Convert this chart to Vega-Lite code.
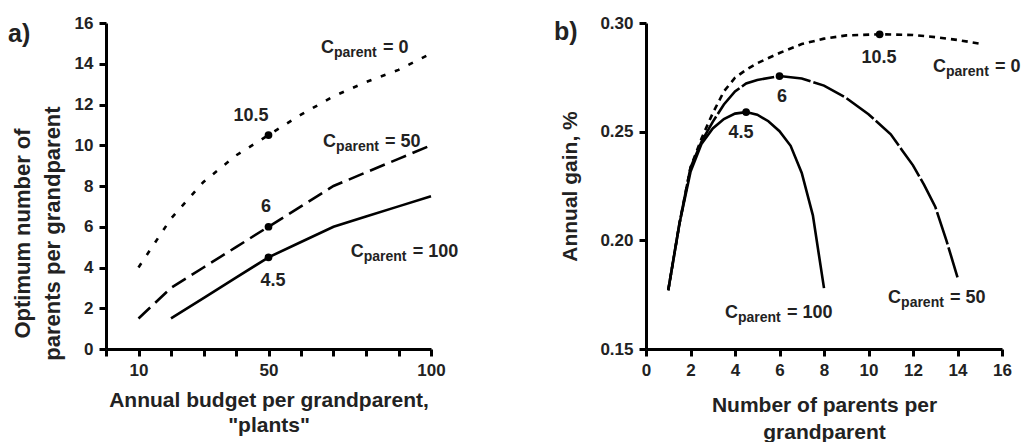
{
  "$schema": "https://vega.github.io/schema/vega-lite/v6.json",
  "padding": {"left": 8, "top": 14, "right": 0, "bottom": 0},
  "spacing": 95,
  "config": {
    "font": "Liberation Sans",
    "view": {"stroke": null},
    "axis": {
      "grid": false,
      "domain": true,
      "ticks": true,
      "domainColor": "black",
      "domainWidth": 3,
      "tickColor": "black",
      "tickWidth": 3,
      "tickSize": 7,
      "labelPadding": 6,
      "labelOverlap": false,
      "labelFlush": false,
      "labelFontSize": 17,
      "labelFontWeight": "bold",
      "labelColor": "#222",
      "titleFontSize": 21,
      "titleFontWeight": "bold",
      "titleColor": "#222"
    },
    "title": {"font": "Liberation Sans", "fontSize": 25, "fontWeight": "bold", "color": "#222"},
    "text": {"font": "Liberation Sans", "fontWeight": "bold", "color": "#222", "baseline": "alphabetic"},
    "line": {"color": "black", "strokeWidth": 2.6}
  },
  "datasets": {
    "a_lines": [
      {"budget": 10, "n": 4.0, "cost": "0"},
      {"budget": 20, "n": 6.4, "cost": "0"},
      {"budget": 30, "n": 8.2, "cost": "0"},
      {"budget": 40, "n": 9.5, "cost": "0"},
      {"budget": 50, "n": 10.5, "cost": "0"},
      {"budget": 60, "n": 11.5, "cost": "0"},
      {"budget": 70, "n": 12.4, "cost": "0"},
      {"budget": 80, "n": 13.1, "cost": "0"},
      {"budget": 90, "n": 13.7, "cost": "0"},
      {"budget": 100, "n": 14.5, "cost": "0"},
      {"budget": 10, "n": 1.5, "cost": "50"},
      {"budget": 20, "n": 3.0, "cost": "50"},
      {"budget": 30, "n": 4.0, "cost": "50"},
      {"budget": 40, "n": 5.0, "cost": "50"},
      {"budget": 50, "n": 6.0, "cost": "50"},
      {"budget": 60, "n": 7.0, "cost": "50"},
      {"budget": 70, "n": 8.0, "cost": "50"},
      {"budget": 80, "n": 8.67, "cost": "50"},
      {"budget": 90, "n": 9.33, "cost": "50"},
      {"budget": 100, "n": 10.0, "cost": "50"},
      {"budget": 20, "n": 1.5, "cost": "100"},
      {"budget": 30, "n": 2.5, "cost": "100"},
      {"budget": 40, "n": 3.5, "cost": "100"},
      {"budget": 50, "n": 4.5, "cost": "100"},
      {"budget": 60, "n": 5.25, "cost": "100"},
      {"budget": 70, "n": 6.0, "cost": "100"},
      {"budget": 80, "n": 6.5, "cost": "100"},
      {"budget": 90, "n": 7.0, "cost": "100"},
      {"budget": 100, "n": 7.5, "cost": "100"}
    ],
    "a_points": [
      {"budget": 50, "n": 10.5, "label": "10.5", "lx": 44.6, "ly": 11.19},
      {"budget": 50, "n": 6.0, "label": "6", "lx": 49.2, "ly": 6.72},
      {"budget": 50, "n": 4.5, "label": "4.5", "lx": 51.4, "ly": 3.09}
    ],
    "a_caps": [
      {"x": 66.15, "y": 14.53, "rest": "= 0"},
      {"x": 66.8, "y": 9.91, "rest": "= 50"},
      {"x": 75.3, "y": 4.52, "rest": "= 100"}
    ],
    "b_lines": [
      {"parents": 1, "gain": 0.177, "cost": "0"},
      {"parents": 1.5, "gain": 0.2075, "cost": "0"},
      {"parents": 2, "gain": 0.2335, "cost": "0"},
      {"parents": 2.5, "gain": 0.247, "cost": "0"},
      {"parents": 3, "gain": 0.2585, "cost": "0"},
      {"parents": 3.5, "gain": 0.2685, "cost": "0"},
      {"parents": 4, "gain": 0.2748, "cost": "0"},
      {"parents": 4.5, "gain": 0.2785, "cost": "0"},
      {"parents": 5, "gain": 0.2815, "cost": "0"},
      {"parents": 6, "gain": 0.2862, "cost": "0"},
      {"parents": 7, "gain": 0.2903, "cost": "0"},
      {"parents": 8, "gain": 0.2928, "cost": "0"},
      {"parents": 9, "gain": 0.2943, "cost": "0"},
      {"parents": 10.5, "gain": 0.2948, "cost": "0"},
      {"parents": 12, "gain": 0.2945, "cost": "0"},
      {"parents": 13, "gain": 0.2935, "cost": "0"},
      {"parents": 14, "gain": 0.2922, "cost": "0"},
      {"parents": 15, "gain": 0.2905, "cost": "0"},
      {"parents": 1, "gain": 0.177, "cost": "50"},
      {"parents": 1.5, "gain": 0.2075, "cost": "50"},
      {"parents": 2, "gain": 0.2335, "cost": "50"},
      {"parents": 2.5, "gain": 0.2455, "cost": "50"},
      {"parents": 3, "gain": 0.2545, "cost": "50"},
      {"parents": 3.5, "gain": 0.2625, "cost": "50"},
      {"parents": 4, "gain": 0.2685, "cost": "50"},
      {"parents": 4.5, "gain": 0.2722, "cost": "50"},
      {"parents": 5, "gain": 0.2738, "cost": "50"},
      {"parents": 6, "gain": 0.2756, "cost": "50"},
      {"parents": 7, "gain": 0.2745, "cost": "50"},
      {"parents": 8, "gain": 0.2712, "cost": "50"},
      {"parents": 9, "gain": 0.2655, "cost": "50"},
      {"parents": 10, "gain": 0.258, "cost": "50"},
      {"parents": 11, "gain": 0.2488, "cost": "50"},
      {"parents": 11.5, "gain": 0.2416, "cost": "50"},
      {"parents": 12, "gain": 0.2345, "cost": "50"},
      {"parents": 12.5, "gain": 0.2255, "cost": "50"},
      {"parents": 13, "gain": 0.2155, "cost": "50"},
      {"parents": 13.5, "gain": 0.2, "cost": "50"},
      {"parents": 14, "gain": 0.183, "cost": "50"},
      {"parents": 1, "gain": 0.177, "cost": "100"},
      {"parents": 1.5, "gain": 0.2075, "cost": "100"},
      {"parents": 2, "gain": 0.2315, "cost": "100"},
      {"parents": 2.5, "gain": 0.2445, "cost": "100"},
      {"parents": 3, "gain": 0.2515, "cost": "100"},
      {"parents": 3.5, "gain": 0.2558, "cost": "100"},
      {"parents": 4, "gain": 0.2583, "cost": "100"},
      {"parents": 4.5, "gain": 0.259, "cost": "100"},
      {"parents": 5, "gain": 0.2578, "cost": "100"},
      {"parents": 5.5, "gain": 0.2548, "cost": "100"},
      {"parents": 6, "gain": 0.2502, "cost": "100"},
      {"parents": 6.5, "gain": 0.2435, "cost": "100"},
      {"parents": 7, "gain": 0.231, "cost": "100"},
      {"parents": 7.5, "gain": 0.2115, "cost": "100"},
      {"parents": 8, "gain": 0.178, "cost": "100"}
    ],
    "b_points": [
      {"parents": 10.5, "gain": 0.2948, "label": "10.5", "lx": 10.47, "ly": 0.2816},
      {"parents": 6, "gain": 0.2756, "label": "6", "lx": 6.11, "ly": 0.2636},
      {"parents": 4.5, "gain": 0.259, "label": "4.5", "lx": 4.27, "ly": 0.2471}
    ],
    "b_caps": [
      {"x": 12.9, "y": 0.2775, "rest": "= 0"},
      {"x": 10.88, "y": 0.1711, "rest": "= 50"},
      {"x": 3.55, "y": 0.1642, "rest": "= 100"}
    ]
  },
  "hconcat": [
    {
      "width": 325,
      "height": 326,
      "title": {"text": "a)", "anchor": "start", "frame": "group", "dx": -98, "offset": -33},
      "encoding": {
        "x": {
          "field": "budget", "type": "quantitative",
          "scale": {"domain": [0, 100], "nice": false},
          "axis": {
            "values": [0, 10, 20, 30, 40, 50, 60, 70, 80, 90, 100],
            "labelExpr": "indexof([10, 50, 100], datum.value) >= 0 ? datum.label : ''",
            "title": ["Annual budget per grandparent,", "\"plants\""],
            "titleLineHeight": 25,
            "titlePadding": 11
          }
        },
        "y": {
          "field": "n", "type": "quantitative",
          "scale": {"domain": [0, 16], "nice": false},
          "axis": {
            "values": [0, 2, 4, 6, 8, 10, 12, 14, 16],
            "title": ["Optimum number of", "parents per grandparent"],
            "titleFontSize": 22,
            "titleLineHeight": 30,
            "titleY": 210,
            "titlePadding": 10
          }
        }
      },
      "layer": [
        {
          "data": {"name": "a_lines"},
          "transform": [{"filter": "datum.cost == '0'"}],
          "mark": {"type": "line", "strokeDash": [5, 10]}
        },
        {
          "data": {"name": "a_lines"},
          "transform": [{"filter": "datum.cost == '50'"}],
          "mark": {"type": "line", "strokeDash": [16, 7]}
        },
        {
          "data": {"name": "a_lines"},
          "transform": [{"filter": "datum.cost == '100'"}],
          "mark": {"type": "line"}
        },
        {
          "data": {"name": "a_points"},
          "mark": {"type": "point", "filled": true, "color": "black", "opacity": 1, "size": 60}
        },
        {
          "data": {"name": "a_points"},
          "mark": {"type": "text", "fontSize": 18, "align": "center"},
          "encoding": {
            "x": {"field": "lx", "type": "quantitative"},
            "y": {"field": "ly", "type": "quantitative"},
            "text": {"field": "label"}
          }
        },
        {
          "data": {"name": "a_caps"},
          "mark": {"type": "text", "fontSize": 18, "align": "left"},
          "encoding": {
            "x": {"field": "x", "type": "quantitative"},
            "y": {"field": "y", "type": "quantitative"},
            "text": {"value": "C"}
          }
        },
        {
          "data": {"name": "a_caps"},
          "mark": {"type": "text", "fontSize": 14, "align": "left", "dx": 13, "dy": 4},
          "encoding": {
            "x": {"field": "x", "type": "quantitative"},
            "y": {"field": "y", "type": "quantitative"},
            "text": {"value": "parent"}
          }
        },
        {
          "data": {"name": "a_caps"},
          "mark": {"type": "text", "fontSize": 18, "align": "left", "dx": 62},
          "encoding": {
            "x": {"field": "x", "type": "quantitative"},
            "y": {"field": "y", "type": "quantitative"},
            "text": {"field": "rest"}
          }
        }
      ]
    },
    {
      "width": 356,
      "height": 326,
      "title": {"text": "b)", "anchor": "start", "frame": "group", "dx": -92, "offset": -31},
      "encoding": {
        "x": {
          "field": "parents", "type": "quantitative",
          "scale": {"domain": [0, 16], "nice": false},
          "axis": {
            "values": [0, 2, 4, 6, 8, 10, 12, 14, 16],
            "title": ["Number of parents per", "grandparent"],
            "titleLineHeight": 27,
            "titlePadding": 16
          }
        },
        "y": {
          "field": "gain", "type": "quantitative",
          "scale": {"domain": [0.15, 0.3], "nice": false},
          "axis": {
            "values": [0.15, 0.2, 0.25, 0.3],
            "format": ".2f",
            "title": "Annual gain, %",
            "titlePadding": 19
          }
        }
      },
      "layer": [
        {
          "data": {"name": "b_lines"},
          "transform": [{"filter": "datum.cost == '0'"}],
          "mark": {"type": "line", "strokeDash": [6, 5]}
        },
        {
          "data": {"name": "b_lines"},
          "transform": [{"filter": "datum.cost == '50'"}],
          "mark": {"type": "line", "strokeDash": [34, 3]}
        },
        {
          "data": {"name": "b_lines"},
          "transform": [{"filter": "datum.cost == '100'"}],
          "mark": {"type": "line"}
        },
        {
          "data": {"name": "b_points"},
          "mark": {"type": "point", "filled": true, "color": "black", "opacity": 1, "size": 60}
        },
        {
          "data": {"name": "b_points"},
          "mark": {"type": "text", "fontSize": 18, "align": "center"},
          "encoding": {
            "x": {"field": "lx", "type": "quantitative"},
            "y": {"field": "ly", "type": "quantitative"},
            "text": {"field": "label"}
          }
        },
        {
          "data": {"name": "b_caps"},
          "mark": {"type": "text", "fontSize": 18, "align": "left"},
          "encoding": {
            "x": {"field": "x", "type": "quantitative"},
            "y": {"field": "y", "type": "quantitative"},
            "text": {"value": "C"}
          }
        },
        {
          "data": {"name": "b_caps"},
          "mark": {"type": "text", "fontSize": 14, "align": "left", "dx": 13, "dy": 4},
          "encoding": {
            "x": {"field": "x", "type": "quantitative"},
            "y": {"field": "y", "type": "quantitative"},
            "text": {"value": "parent"}
          }
        },
        {
          "data": {"name": "b_caps"},
          "mark": {"type": "text", "fontSize": 18, "align": "left", "dx": 62},
          "encoding": {
            "x": {"field": "x", "type": "quantitative"},
            "y": {"field": "y", "type": "quantitative"},
            "text": {"field": "rest"}
          }
        }
      ]
    }
  ]
}
